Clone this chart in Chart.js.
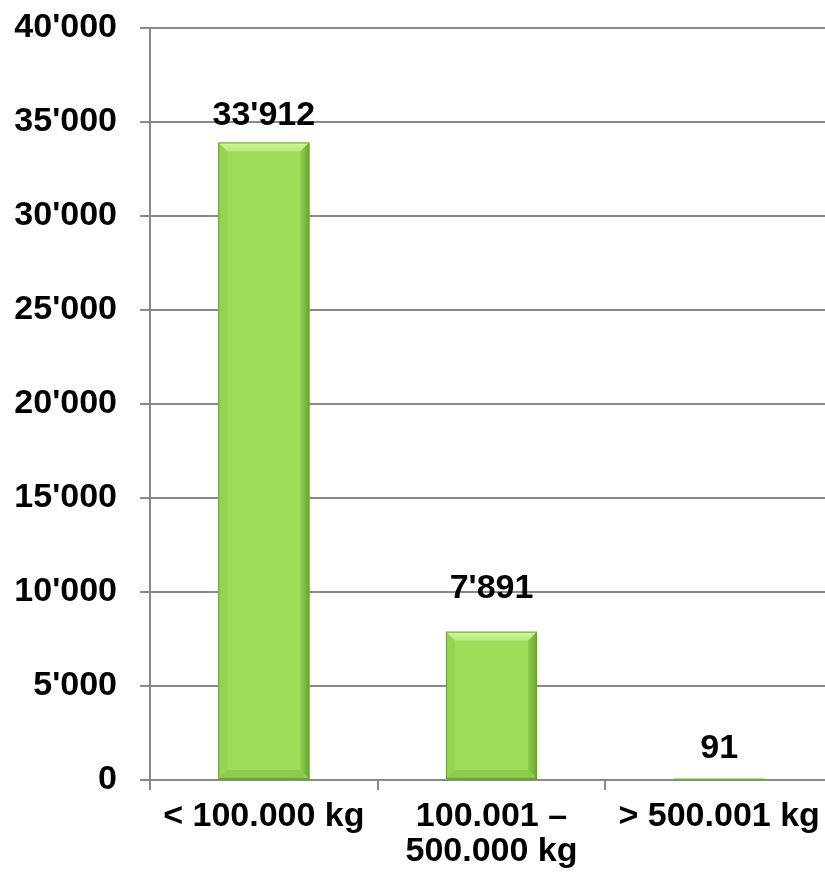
<!DOCTYPE html>
<html>
<head>
<meta charset="utf-8">
<script src="https://cdn.jsdelivr.net/npm/chart.js@4/dist/chart.umd.min.js"></script>
<style>
  html, body { margin: 0; padding: 0; background: #ffffff; overflow: hidden; }
  #wrap { width: 833px; height: 881px; }
</style>
</head>
<body>
<div id="wrap"><canvas id="c" width="833" height="881"></canvas></div>
<script>
// Betriebe nach Grössenklasse (Menge in kg)
const categories = ['< 100.000 kg', ['100.001 –', '500.000 kg'], '> 500.001 kg'];
const counts = [33912, 7891, 91];
const yMin = 0;
const yMax = 40000;
const yStep = 5000;

// Vertical lift of each value label above its bar, in px
const labelLift = [17, 34, 20];

const FONT_FAMILY = '"Liberation Sans", Arial, Helvetica, sans-serif';
const GRID = '#898989';

function fmt(v) {
  return String(Math.round(v)).replace(/\B(?=(\d{3})+(?!\d))/g, "'");
}

// Bevelled look for the bars, plus the value labels on top
const bevelAndLabels = {
  id: 'bevelAndLabels',
  afterDatasetsDraw(chart) {
    const ctx = chart.ctx;
    const meta = chart.getDatasetMeta(0);
    meta.data.forEach((bar, i) => {
      const l = bar.x - bar.width / 2;
      const r = bar.x + bar.width / 2;
      const t = bar.y;
      const b = bar.base;
      const h = b - t;
      const bv = Math.min(9, h / 2);
      if (h > 4) {
        ctx.save();
        // top facet
        const gTop = ctx.createLinearGradient(0, t, 0, t + bv);
        gTop.addColorStop(0, '#d6f8a0');
        gTop.addColorStop(1, '#b2ea72');
        ctx.fillStyle = gTop;
        ctx.beginPath();
        ctx.moveTo(l, t); ctx.lineTo(r, t); ctx.lineTo(r - bv, t + bv); ctx.lineTo(l + bv, t + bv);
        ctx.closePath(); ctx.fill();
        // left facet
        ctx.fillStyle = '#94d452';
        ctx.beginPath();
        ctx.moveTo(l, t); ctx.lineTo(l + bv, t + bv); ctx.lineTo(l + bv, b - bv); ctx.lineTo(l, b);
        ctx.closePath(); ctx.fill();
        // right facet
        const gR = ctx.createLinearGradient(r - bv, 0, r, 0);
        gR.addColorStop(0, '#90ce50');
        gR.addColorStop(1, '#6aa534');
        ctx.fillStyle = gR;
        ctx.beginPath();
        ctx.moveTo(r, t); ctx.lineTo(r, b); ctx.lineTo(r - bv, b - bv); ctx.lineTo(r - bv, t + bv);
        ctx.closePath(); ctx.fill();
        // bottom facet
        ctx.fillStyle = '#8ccb4c';
        ctx.beginPath();
        ctx.moveTo(l, b); ctx.lineTo(l + bv, b - bv); ctx.lineTo(r - bv, b - bv); ctx.lineTo(r, b);
        ctx.closePath(); ctx.fill();
        // thin outline
        ctx.strokeStyle = '#6a9f36';
        ctx.lineWidth = 1;
        ctx.strokeRect(l + 0.5, t + 0.5, bar.width - 1, h - 1);
        ctx.restore();
      }
      // value label
      ctx.save();
      ctx.fillStyle = '#000000';
      ctx.font = 'bold 34px ' + FONT_FAMILY;
      ctx.textAlign = 'center';
      ctx.textBaseline = 'alphabetic';
      ctx.fillText(fmt(counts[i]), bar.x, t - labelLift[i]);
      ctx.restore();
    });
  }
};

// Redraw the category axis line over the bar bases
const axisOnTop = {
  id: 'axisOnTop',
  afterDatasetsDraw(chart) {
    const { ctx, chartArea } = chart;
    ctx.save();
    ctx.strokeStyle = GRID;
    ctx.lineWidth = 2;
    ctx.beginPath();
    ctx.moveTo(chartArea.left, chartArea.bottom);
    ctx.lineTo(chartArea.right, chartArea.bottom);
    ctx.stroke();
    ctx.restore();
  }
};

new Chart(document.getElementById('c'), {
  type: 'bar',
  data: {
    labels: categories,
    datasets: [{
      data: counts,
      backgroundColor: '#9bdc58',
      borderWidth: 0,
      barPercentage: 0.4,
      categoryPercentage: 1.0
    }]
  },
  options: {
    responsive: false,
    animation: false,
    devicePixelRatio: 1,
    layout: { padding: { top: 28, left: 0, right: 0, bottom: 0 } },
    plugins: {
      legend: { display: false },
      tooltip: { enabled: false },
      title: { display: false }
    },
    scales: {
      x: {
        offset: true,
        grid: {
          display: true,
          offset: true,
          drawOnChartArea: false,
          drawTicks: true,
          tickLength: 10,
          color: GRID,
          lineWidth: 2
        },
        border: { display: true, color: GRID, width: 2 },
        ticks: {
          color: '#000000',
          font: { family: FONT_FAMILY, size: 34, weight: 'bold', lineHeight: 1.04 },
          padding: 9,
          maxRotation: 0,
          minRotation: 0,
          autoSkip: false
        },
        afterFit(scale) {
          scale.height = 101;
          scale.paddingLeft = 0;
          scale.paddingRight = 0;
        }
      },
      y: {
        min: yMin,
        max: yMax,
        grid: {
          color: GRID,
          lineWidth: 2,
          drawTicks: true,
          tickLength: 10
        },
        border: { display: true, color: GRID, width: 2 },
        ticks: {
          stepSize: yStep,
          color: '#000000',
          font: { family: FONT_FAMILY, size: 34, weight: 'bold', lineHeight: 1.1 },
          padding: 23,
          callback: (v) => fmt(v)
        },
        afterFit(scale) {
          scale.width = 150;
          scale.paddingTop = 0;
          scale.paddingBottom = 0;
        }
      }
    }
  },
  plugins: [bevelAndLabels, axisOnTop]
});
</script>
</body>
</html>
